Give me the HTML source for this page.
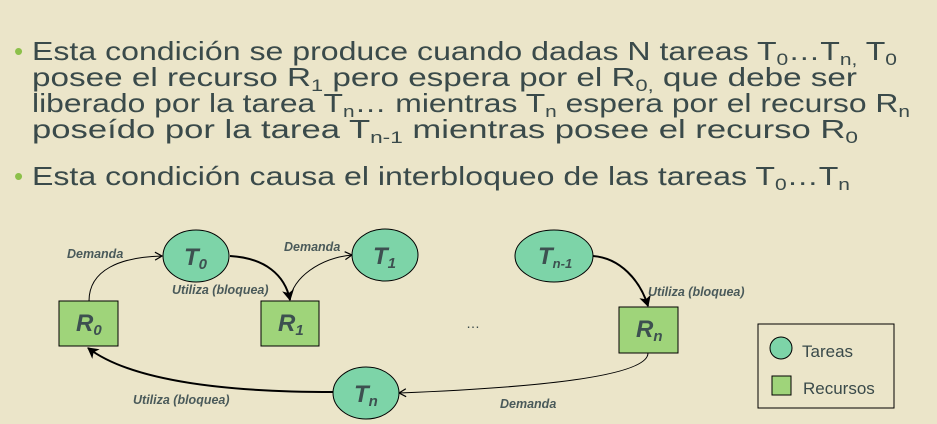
<!DOCTYPE html>
<html><head><meta charset="utf-8"><style>
html,body{margin:0;padding:0;background:#ebe5c9;}
svg{display:block;}
.t{font-family:"Liberation Sans",sans-serif;fill:#3a4a4a;}
.lb{font-family:"Liberation Sans",sans-serif;font-style:italic;font-weight:bold;font-size:12.5px;fill:#4a5a5a;}
.nd{font-family:"Liberation Sans",sans-serif;font-style:italic;font-weight:bold;font-size:24px;fill:#3d5050;}
</style></head><body>
<svg width="937" height="424" viewBox="0 0 937 424" xmlns="http://www.w3.org/2000/svg">
<defs>
<marker id="op" markerWidth="10" markerHeight="10" refX="8" refY="5" orient="auto" markerUnits="userSpaceOnUse"><path d="M1,1 L8,5 L1,9" fill="none" stroke="#000" stroke-width="1.2"/></marker>
<marker id="fl" markerWidth="12" markerHeight="12" refX="10" refY="6" orient="auto" markerUnits="userSpaceOnUse"><path d="M0,0 L11,6 L0,12 L3,6 Z" fill="#000"/></marker>
</defs>
<rect width="937" height="424" fill="#ebe5c9"/>
<g class="t" font-size="26">
<text x="14" y="60" fill="#8cc04a">•</text>
<text x="32" y="60" textLength="865" lengthAdjust="spacingAndGlyphs">Esta condición se produce cuando dadas N tareas T<tspan font-size="17" dy="5">0</tspan><tspan dy="-5">…T</tspan><tspan font-size="17" dy="5">n,</tspan><tspan dy="-5"> T</tspan><tspan font-size="17" dy="5">0</tspan></text>
<text x="32" y="86" textLength="825" lengthAdjust="spacingAndGlyphs">posee el recurso R<tspan font-size="17" dy="5">1</tspan><tspan dy="-5"> pero espera por el R</tspan><tspan font-size="17" dy="5">0,</tspan><tspan dy="-5"> que debe ser</tspan></text>
<text x="32" y="112" textLength="878" lengthAdjust="spacingAndGlyphs">liberado por la tarea T<tspan font-size="17" dy="5">n</tspan><tspan dy="-5">… mientras T</tspan><tspan font-size="17" dy="5">n</tspan><tspan dy="-5"> espera por el recurso R</tspan><tspan font-size="17" dy="5">n</tspan></text>
<text x="32" y="138" textLength="826" lengthAdjust="spacingAndGlyphs">poseído por la tarea T<tspan font-size="17" dy="5">n-1</tspan><tspan dy="-5"> mientras posee el recurso R</tspan><tspan font-size="17" dy="5">0</tspan></text>
<text x="14" y="185" fill="#8cc04a">•</text>
<text x="32" y="185" textLength="818" lengthAdjust="spacingAndGlyphs">Esta condición causa el interbloqueo de las tareas T<tspan font-size="17" dy="5">0</tspan><tspan dy="-5">…T</tspan><tspan font-size="17" dy="5">n</tspan></text>
</g>
<path d="M89,301 C89,270 120,257 162,256" fill="none" stroke="#000" stroke-width="1" marker-end="url(#op)"/>
<path d="M230,256 C265,258 285,275 290,300" fill="none" stroke="#000" stroke-width="2" marker-end="url(#fl)"/>
<path d="M290,300 C292,278 320,258 352,255" fill="none" stroke="#000" stroke-width="1" marker-end="url(#op)"/>
<path d="M593,256 C620,258 640,280 648,306" fill="none" stroke="#000" stroke-width="2" marker-end="url(#fl)"/>
<path d="M648,353 C648,375 550,387 399,393" fill="none" stroke="#000" stroke-width="1" marker-end="url(#op)"/>
<path d="M333,392 C220,392 130,380 88,348" fill="none" stroke="#000" stroke-width="2" marker-end="url(#fl)"/>
<g stroke="#000" stroke-width="1">
<ellipse cx="196" cy="256" rx="33" ry="26" fill="#7dd4a8"/>
<ellipse cx="385" cy="255" rx="33" ry="26" fill="#7dd4a8"/>
<ellipse cx="554" cy="256" rx="39" ry="26" fill="#7dd4a8"/>
<ellipse cx="366" cy="393" rx="33" ry="26" fill="#7dd4a8"/>
<rect x="59" y="301" width="59" height="45" fill="#9fd47a"/>
<rect x="261" y="301" width="58" height="45" fill="#9fd47a"/>
<rect x="619" y="307" width="59" height="46" fill="#9fd47a"/>
<rect x="758" y="324" width="136" height="84" fill="none"/>
<circle cx="781" cy="348" r="11" fill="#7dd4a8"/>
<rect x="772" y="376" width="19" height="19" fill="#9fd47a"/>
</g>
<text class="nd" x="184" y="265">T<tspan font-size="15" dy="4">0</tspan></text>
<text class="nd" x="373" y="264">T<tspan font-size="15" dy="4">1</tspan></text>
<text class="nd" x="538" y="264">T<tspan font-size="13" dy="4">n-1</tspan></text>
<text class="nd" x="354" y="402">T<tspan font-size="15" dy="4">n</tspan></text>
<text class="nd" x="76" y="331">R<tspan font-size="15" dy="4">0</tspan></text>
<text class="nd" x="278" y="331">R<tspan font-size="15" dy="4">1</tspan></text>
<text class="nd" x="636" y="337">R<tspan font-size="15" dy="4">n</tspan></text>
<text class="lb" x="67" y="258">Demanda</text>
<text class="lb" x="284" y="251">Demanda</text>
<text class="lb" x="172" y="294">Utiliza (bloquea)</text>
<text class="lb" x="648" y="296">Utiliza (bloquea)</text>
<text class="lb" x="133" y="404">Utiliza (bloquea)</text>
<text class="lb" x="500" y="408">Demanda</text>
<text x="466" y="328" class="t" font-size="14">…</text>
<text x="802" y="357" class="t" font-size="17">Tareas</text>
<text x="803" y="394" class="t" font-size="17">Recursos</text>
</svg>
</body></html>
